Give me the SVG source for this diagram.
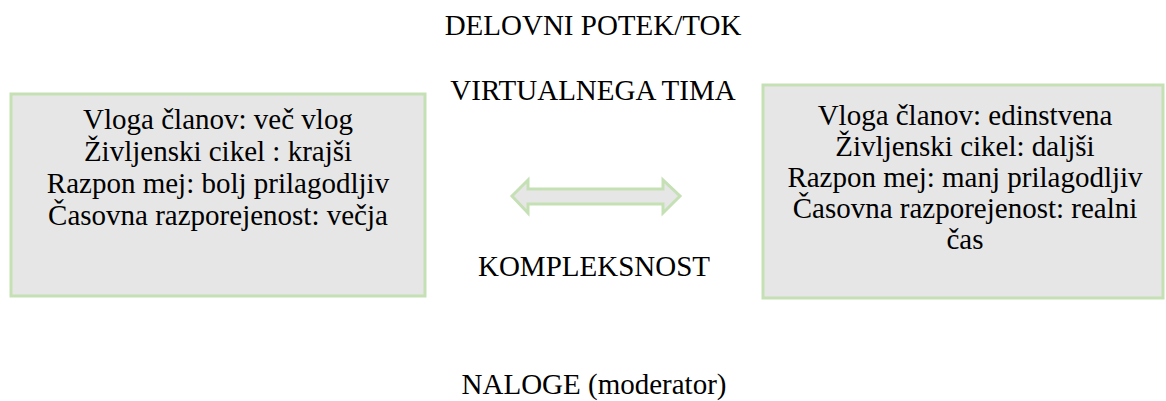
<svg xmlns="http://www.w3.org/2000/svg" width="1166" height="401" viewBox="0 0 1166 401">
<style>
.box{fill:#e6e6e6;stroke:#c5e0b4;stroke-width:3}
.t{font-family:"Liberation Serif","Times New Roman",serif;font-size:29px;fill:#000;text-anchor:middle}
</style>
<rect width="1166" height="401" fill="#fff"/>
<g id="title">
<text class="t" x="593" y="35">DELOVNI POTEK/TOK</text>
<text class="t" x="593" y="100">VIRTUALNEGA TIMA</text>
</g>
<g id="left">
<rect class="box" x="11" y="94" width="414" height="202"/>
<text class="t" x="218" y="129">Vloga članov: več vlog</text>
<text class="t" x="218" y="161">Življenski cikel : krajši</text>
<text class="t" x="218" y="193">Razpon mej: bolj prilagodljiv</text>
<text class="t" x="218" y="225">Časovna razporejenost: večja</text>
</g>
<g id="right">
<rect class="box" x="763" y="85" width="400" height="213"/>
<text class="t" x="965" y="125">Vloga članov: edinstvena</text>
<text class="t" x="965" y="156">Življenski cikel: daljši</text>
<text class="t" x="965" y="187">Razpon mej: manj prilagodljiv</text>
<text class="t" x="965" y="218">Časovna razporejenost: realni</text>
<text class="t" x="965" y="249">čas</text>
</g>
<g id="connectors">
<path class="box" d="M512,196 L528,180 L528,189 L663,189 L663,180 L680,196 L663,213 L663,204 L528,204 L528,213 Z"/>
</g>
<g id="bottom">
<text class="t" x="594" y="276">KOMPLEKSNOST</text>
<text class="t" x="594" y="394">NALOGE (moderator)</text>
</g>
</svg>
